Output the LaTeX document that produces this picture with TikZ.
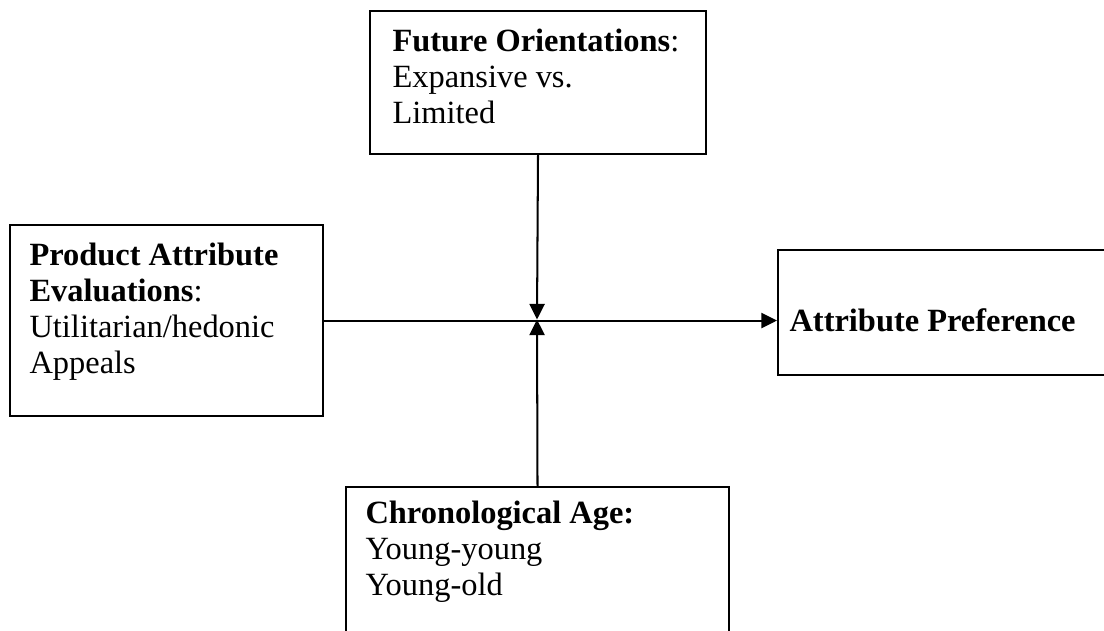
\documentclass[tikz,border=0pt]{standalone}
\usepackage{fontspec}
\setmainfont{Liberation Serif}
\usetikzlibrary{arrows.meta, positioning}

\newcommand\pxu{0.37pt}

\tikzset{
  box/.style={draw, line width=0.75pt, inner sep=0pt, anchor=north west},
  boxtext/.style={anchor=north west, inner sep=0pt, align=left,
    font=\fontsize{12}{13.3}\selectfont},
  link/.style={line width=0.75pt, -{Triangle[length=5.8pt, width=5.6pt]}},
}

\begin{document}
\begin{tikzpicture}[x=\pxu, y=-\pxu]
      \useasboundingbox (0,0) rectangle (1104,630);
      \clip (0,0) rectangle (1104,630);

      % the four boxes
      \node[box, minimum width=336*\pxu, minimum height=143*\pxu] (fut) at (369,10) {};
      \node[box, minimum width=313*\pxu, minimum height=191*\pxu] (pae) at (9,224) {};
      \node[box, minimum width=340*\pxu, minimum height=125*\pxu] (apr) at (777,249) {};
      \node[box, minimum width=383*\pxu, minimum height=160*\pxu] (age) at (345,486) {};

      % their texts
      \node[boxtext] (futtxt) at (392,26) {\strut\textbf{Future Orientations}:\\Expansive vs.\\Limited};
      \node[boxtext] (paetxt) at (29,240) {\strut\textbf{Product Attribute}\\\textbf{Evaluations}:\\Utilitarian/hedonic\\Appeals};
      \node[boxtext] (aprtxt) at (789,306) {\strut\textbf{Attribute Preference}};
      \node[boxtext] (agetxt) at (365,498) {\strut\textbf{Chronological Age:}\\Young-young\\Young-old};

      % connectors meeting in the middle
      \coordinate (cross) at (537,319.5);
      \draw[link] (pae.east) -- (pae.east -| apr.west);
      \draw[link] (fut.south) -- (cross);
      \draw[link] (age.north) -- (cross);
    \end{tikzpicture}
\end{document}
